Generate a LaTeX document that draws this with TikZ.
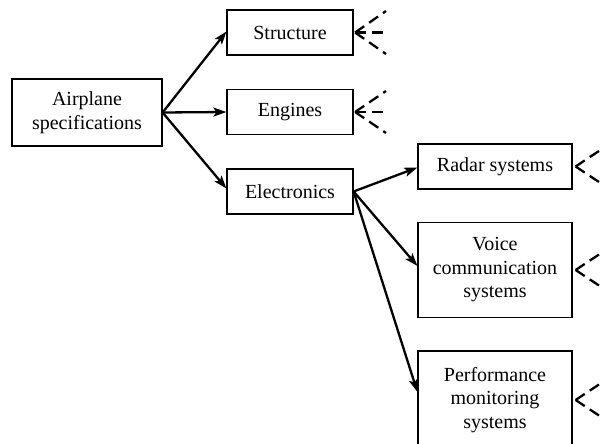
\documentclass[tikz,border=0pt]{standalone}
\usepackage{fontspec}
\setmainfont{Liberation Serif}
\usetikzlibrary{arrows.meta}
\begin{document}
\begin{tikzpicture}[x=1pt,y=-1pt,
  box/.style={draw, line width=1.2pt, align=center, inner sep=0pt,
    font=\fontsize{20}{23.5}\selectfont},
  link/.style={line width=2.3pt, -{Stealth[length=13pt,width=9pt,inset=3pt]}},
  dsh/.style={line width=2.3pt, dash pattern=on 11pt off 6pt},
]
\useasboundingbox (0,0) rectangle (600,444);
\clip (0,0) rectangle (600,444);

\node[box, minimum width=150pt, minimum height=67pt] (air) at (87,112.5) {Airplane\\specifications};
\node[box, minimum width=126pt, minimum height=45pt] (str) at (290,32.5) {Structure};
\node[box, minimum width=126pt, minimum height=45pt] (eng) at (290,112) {Engines};
\node[box, minimum width=126pt, minimum height=45pt] (ele) at (290,191.5) {Electronics};
\node[box, minimum width=154pt, minimum height=45pt] (rad) at (495,166.5) {Radar systems};
\node[box, minimum width=154pt, minimum height=95pt] (voi) at (495,270) {Voice\\communication\\systems};
\node[box, minimum width=154pt, minimum height=98pt] (per) at (495,400) {Performance\\monitoring\\systems};

\draw[link] (air.east) -- ([yshift=1pt]str.west);
\draw[link] (air.east) -- (eng.west);
\draw[link] (air.east) -- ([yshift=3pt]ele.west);
\draw[link] (ele.east) -- ([yshift=-1pt]rad.west);
\draw[link] (ele.east) -- ([yshift=4pt]voi.west);
\draw[link] (ele.east) -- ([yshift=8pt]per.west);

% dashed incoming lines
\coordinate (s1) at (386,11);
\coordinate (s2) at (384,32.5);
\coordinate (s3) at (386,54);
\draw[dsh] ([xshift=1.5pt]str.east) -- (s1);
\draw[dsh] ([xshift=1.5pt]str.east) -- (s2);
\draw[dsh] ([xshift=1.5pt]str.east) -- (s3);

\coordinate (e1) at (386,91);
\coordinate (e2) at (384,112);
\coordinate (e3) at (386,133);
\draw[dsh] ([xshift=1.5pt]eng.east) -- (e1);
\draw[dsh] ([xshift=1.5pt]eng.east) -- (e2);
\draw[dsh] ([xshift=1.5pt]eng.east) -- (e3);

\coordinate (r1) at (608,145);
\coordinate (r3) at (608,188);
\draw[dsh] ([xshift=3pt]rad.east) -- (r1);
\draw[dsh] ([xshift=3pt]rad.east) -- (r3);

\coordinate (v1) at (608,248.5);
\coordinate (v3) at (608,291.5);
\draw[dsh] ([xshift=3pt]voi.east) -- (v1);
\draw[dsh] ([xshift=3pt]voi.east) -- (v3);

\coordinate (p1) at (608,378.5);
\coordinate (p3) at (608,421.5);
\draw[dsh] ([xshift=3pt]per.east) -- (p1);
\draw[dsh] ([xshift=3pt]per.east) -- (p3);
\end{tikzpicture}
\end{document}
